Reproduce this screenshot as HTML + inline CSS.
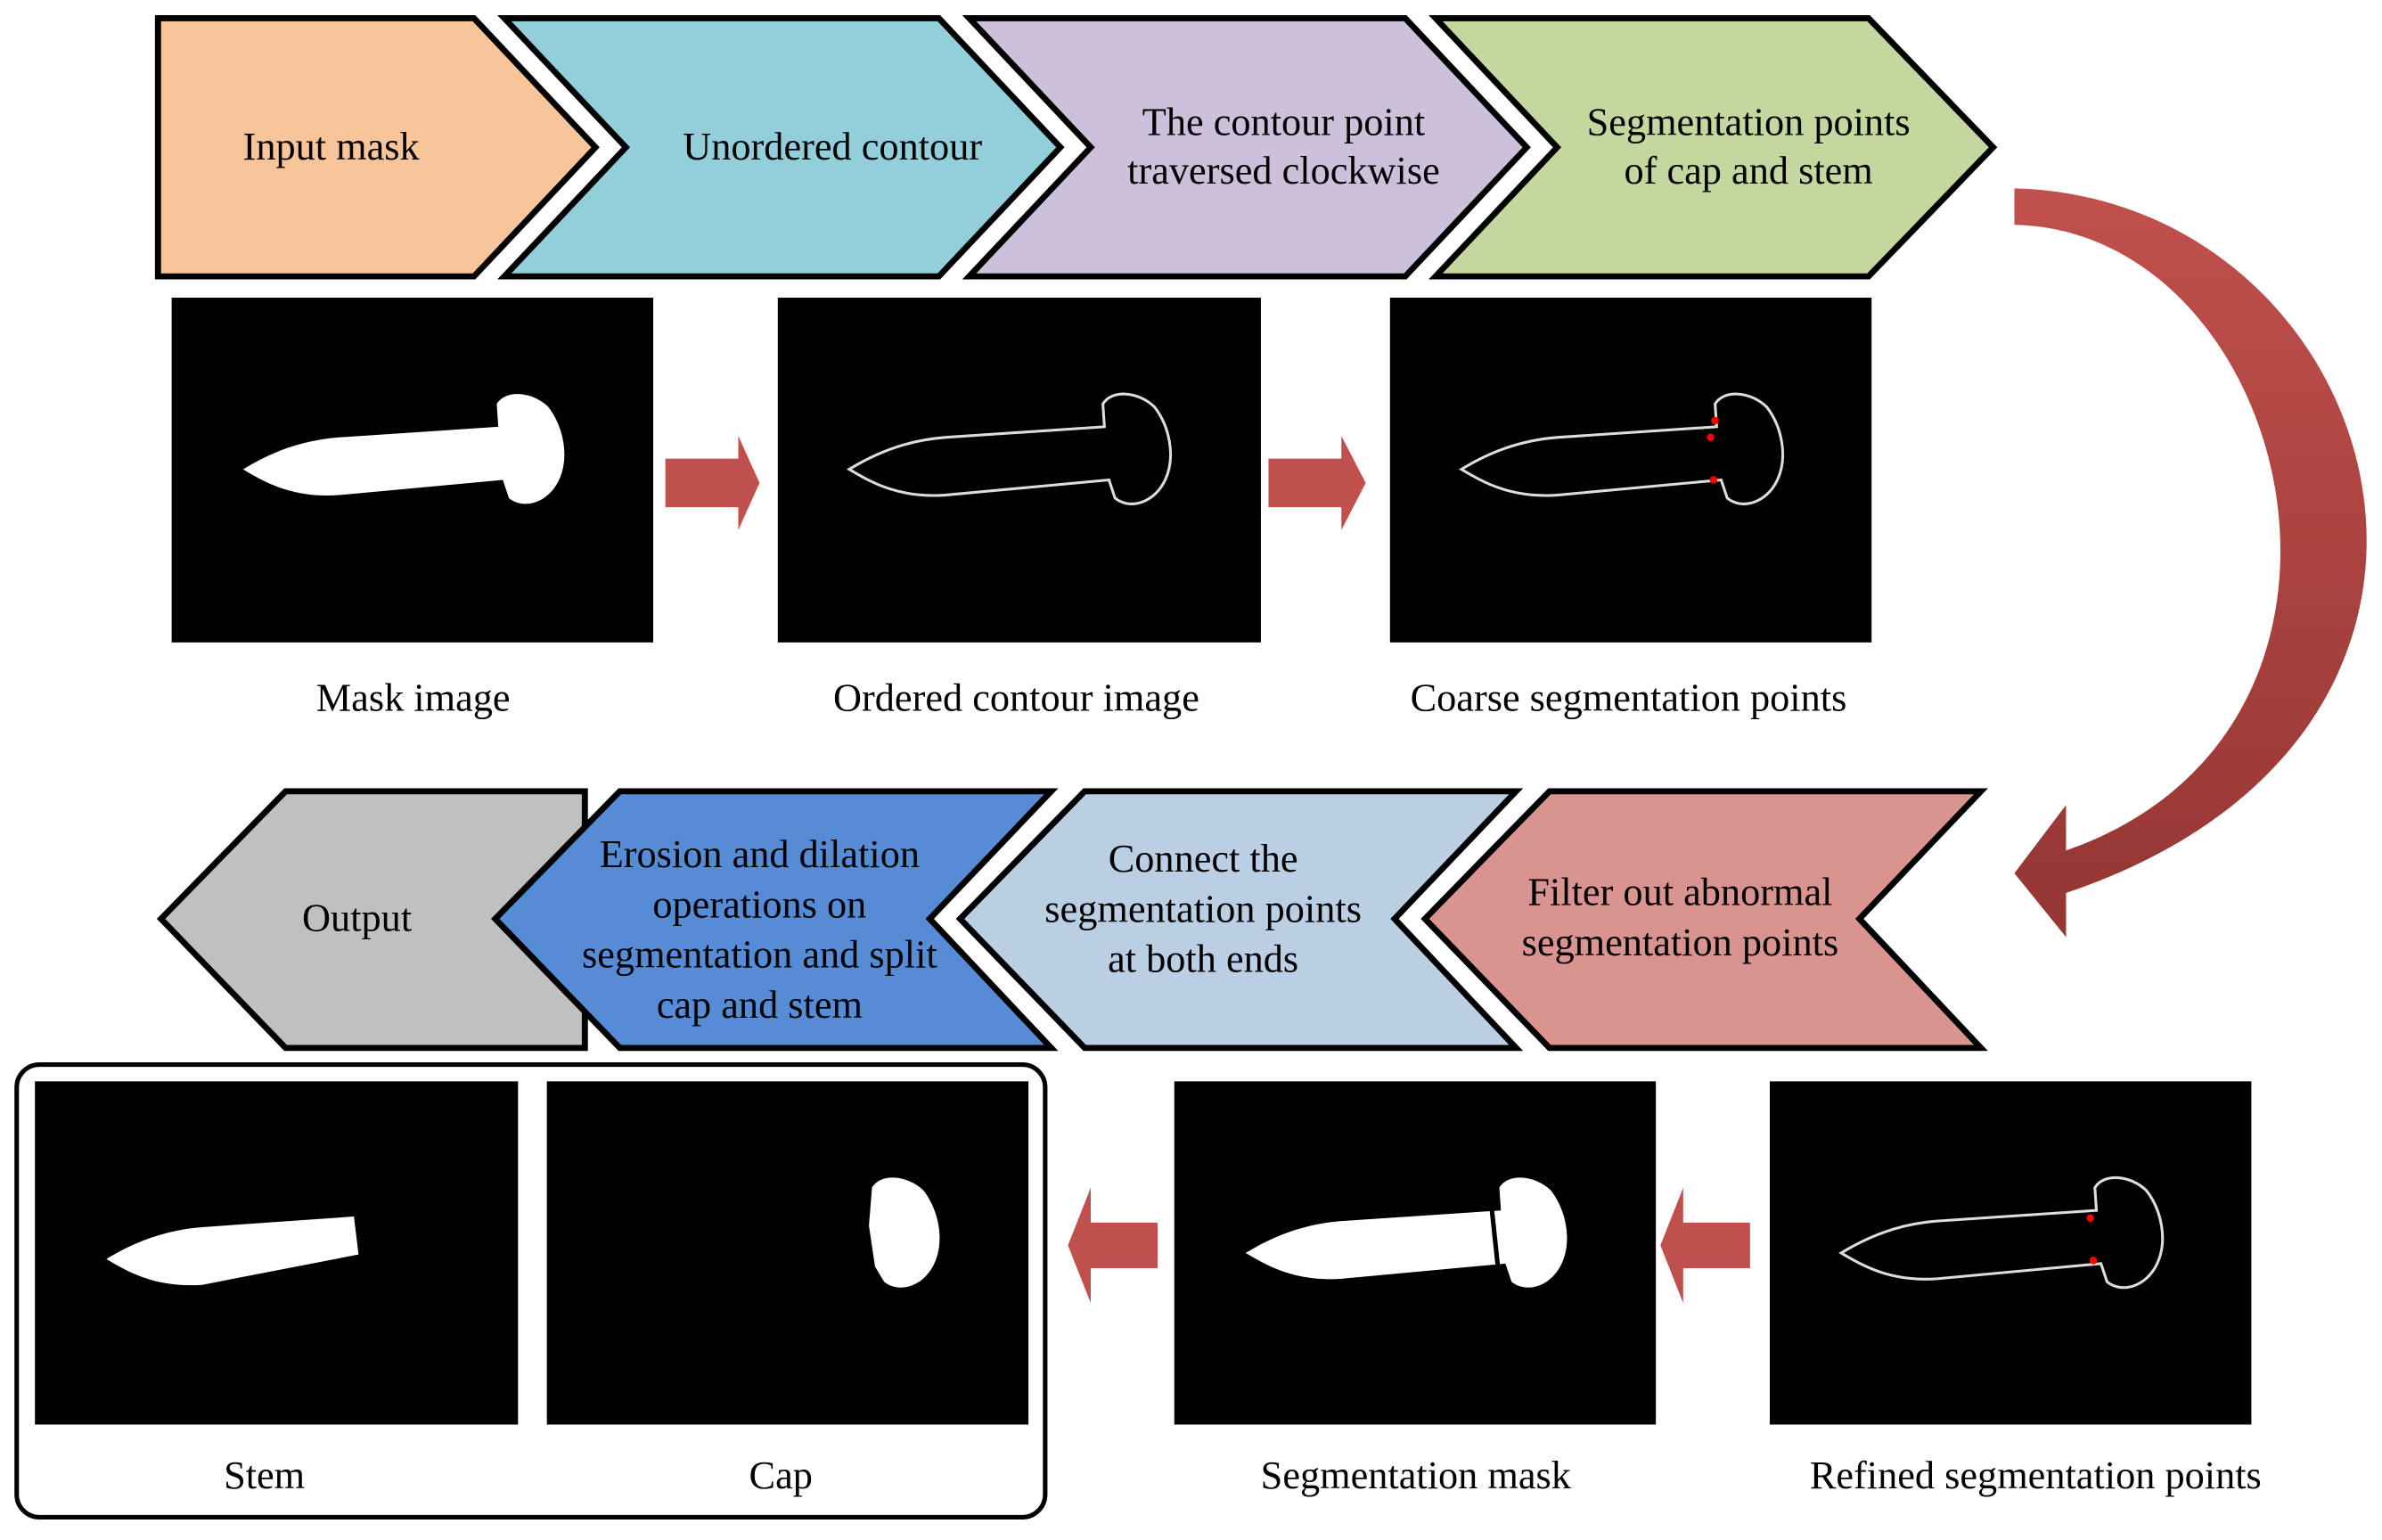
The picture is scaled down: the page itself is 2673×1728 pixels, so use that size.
<!DOCTYPE html>
<html><head><meta charset="utf-8"><style>
html,body{margin:0;padding:0;background:#fff;}
svg{display:block;}
text{font-family:"Liberation Serif",serif;font-size:26px;fill:#000;text-anchor:middle;}
</style></head><body>
<svg width="2673" height="1728" viewBox="0 0 1568 1014" preserveAspectRatio="none" xmlns="http://www.w3.org/2000/svg">
<defs>
<path id="m" d="M47,113 C65,102 85,94 110,92 L215,85 L214,70 C220,60 238,62 248,72 C258,85 262,105 255,120 C248,135 232,140 222,132 L218,120 L110,130 C80,132 62,122 47,113 Z"/>
<linearGradient id="g" x1="0" y1="0" x2="0" y2="1"><stop offset="0" stop-color="#c0504d"/><stop offset="1" stop-color="#943632"/></linearGradient>
</defs>
<g stroke="#000" stroke-width="4" stroke-linejoin="miter">
<polygon points="104,12 312,12 392,97 312,182 104,182" fill="#f8c59a"/>
<polygon points="332,12 618,12 698,97 618,182 332,182 412,97" fill="#93cedb"/>
<polygon points="638,12 925,12 1005,97 925,182 638,182 718,97" fill="#ccc0da"/>
<polygon points="945,12 1230,12 1312,97 1230,182 945,182 1025,97" fill="#c4d79f"/>
<polygon points="106,605 188,521 385,521 385,690 188,690" fill="#c0c0c0"/>
<polygon points="326,605 408,521 692,521 612,605 692,690 408,690" fill="#568cd6"/>
<polygon points="632,605 714,521 998,521 918,605 998,690 714,690" fill="#bacfe3"/>
<polygon points="938,605 1020,521 1304,521 1224,605 1304,690 1020,690" fill="#d9948f"/>
</g>
<text x="218" y="105">Input mask</text>
<text x="548" y="105">Unordered contour</text>
<text x="845" y="89">The contour point</text>
<text x="845" y="121">traversed clockwise</text>
<text x="1151" y="89">Segmentation points</text>
<text x="1151" y="121">of cap and stem</text>
<text x="235" y="613">Output</text>
<text x="500" y="571">Erosion and dilation</text>
<text x="500" y="604">operations on</text>
<text x="500" y="637">segmentation and split</text>
<text x="500" y="670">cap and stem</text>
<text x="792" y="574">Connect the</text>
<text x="792" y="607">segmentation points</text>
<text x="792" y="640">at both ends</text>
<text x="1106" y="596">Filter out abnormal</text>
<text x="1106" y="629">segmentation points</text>

<rect x="113" y="196" width="317" height="227"/>
<use href="#m" x="113" y="196" fill="#fff"/>
<rect x="512" y="196" width="318" height="227"/>
<use href="#m" x="512" y="196" fill="none" stroke="#ddd" stroke-width="1.8"/>
<rect x="915" y="196" width="317" height="227"/>
<use href="#m" x="915" y="196" fill="none" stroke="#ddd" stroke-width="1.8"/>
<g fill="#f00"><circle cx="1129" cy="277" r="2.5"/><circle cx="1126" cy="288" r="2.5"/><circle cx="1128" cy="316" r="2.5"/></g>

<rect x="11" y="701" width="677" height="298" rx="15" fill="none" stroke="#000" stroke-width="3"/>
<rect x="23" y="712" width="318" height="226"/>
<path transform="translate(23,716)" d="M47,113 C65,102 85,94 110,92 L210,85 L213,110 L110,130 C80,132 62,122 47,113 Z" fill="#fff"/>
<rect x="360" y="712" width="317" height="226"/>
<path transform="translate(360,712)" d="M214,70 C220,60 238,62 248,72 C258,85 262,105 255,120 C248,135 232,140 222,132 L216,122 L212,95 Z" fill="#fff"/>
<rect x="773" y="712" width="317" height="226"/>
<use href="#m" x="773" y="712" fill="#fff"/>
<line x1="982" y1="796" x2="986" y2="834" stroke="#000" stroke-width="3"/>
<rect x="1165" y="712" width="317" height="226"/>
<use href="#m" x="1165" y="712" fill="none" stroke="#ddd" stroke-width="1.8"/>
<g fill="#f00"><circle cx="1376" cy="802" r="2.5"/><circle cx="1378" cy="830" r="2.5"/></g>

<text x="272" y="468">Mask image</text>
<text x="669" y="468">Ordered contour image</text>
<text x="1072" y="468">Coarse segmentation points</text>
<text x="174" y="980">Stem</text>
<text x="514" y="980">Cap</text>
<text x="932" y="980">Segmentation mask</text>
<text x="1340" y="980">Refined segmentation points</text>

<g fill="#c0504d">
<polygon points="438,302 486,302 486,287 500,318 486,349 486,334 438,334"/>
<polygon points="835,302 883,302 883,287 899,318 883,349 883,334 835,334"/>
<polygon points="762,805 718,805 718,782 703,820 718,858 718,835 762,835"/>
<polygon points="1152,805 1108,805 1108,782 1093,820 1108,858 1108,835 1152,835"/>
</g>
<path d="M1326,124 C1570,130 1680,480 1360,588 L1360,617 L1326,575 L1360,530 L1360,560 C1590,480 1510,152 1326,148 Z" fill="url(#g)"/>
</svg>
</body></html>
